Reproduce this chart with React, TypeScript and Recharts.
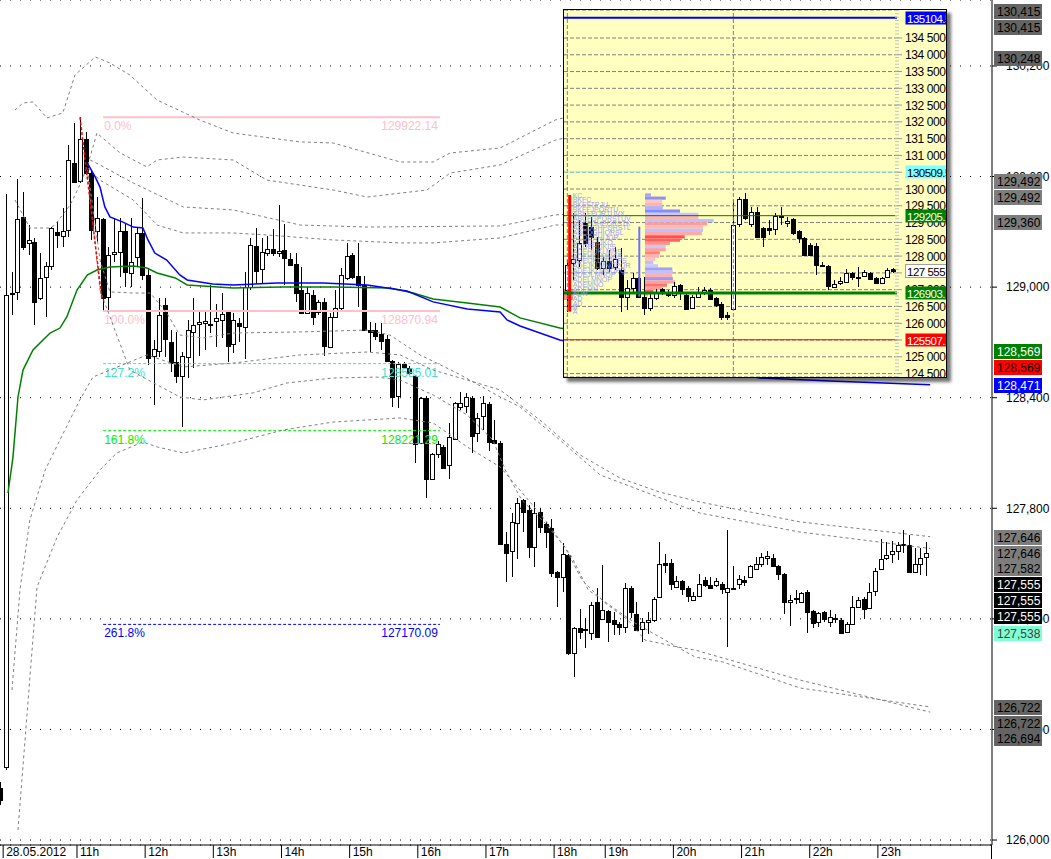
import React from 'react';
import {
  ComposedChart,
  Bar,
  Line,
  Scatter,
  XAxis,
  YAxis,
  CartesianGrid,
  ReferenceLine,
  ReferenceArea,
} from 'recharts';

const FONT = '"Liberation Sans", Arial, Helvetica, sans-serif';

// ---- main chart: 5 min bars, 28.05.2012 (index = bar number) ----
const OPEN = [
  126282, 126396, 128963, 128974, 129381, 129240, 129245, 128941, 129055, 129115,
  129299, 129277, 129310, 129674, 129576, 129804, 129619, 129305, 129370, 128946,
  129180, 129191, 129305, 129077, 129164, 129294, 129066, 128626, 128653, 128903,
  128702, 128594, 128518, 128621, 128757, 128800, 128805, 128800, 128816, 128822,
  128865, 128692, 128805, 128784, 129001, 129223, 129098, 129185, 129207, 129185,
  129202, 129153, 129126, 128985, 128860, 128957, 128865, 128919, 128675, 128838,
  128887, 129050, 129174, 129060, 129012, 128768, 128768, 128746, 128719, 128599,
  128409, 128583, 128561, 128518, 128154, 128398, 127959, 128095, 128133, 128035,
  128176, 128350, 128355, 128398, 128209, 128301, 128366, 128171, 128154, 127606,
  127568, 127720, 127845, 127791, 127590, 127780, 127715, 127693, 127454, 127427,
  127547, 127015, 127151, 127145, 127124, 127292, 127199, 127243, 127194, 127172,
  127156, 127368, 127226, 127145, 127183, 127194, 127319, 127503, 127503, 127373,
  127406, 127368, 127302, 127324, 127411, 127384, 127384, 127389, 127346, 127368,
  127389, 127411, 127427, 127471, 127498, 127530, 127530, 127487, 127444, 127292,
  127308, 127292, 127346, 127243, 127183, 127237, 127183, 127205, 127194, 127129,
  127172, 127264, 127308, 127259, 127351, 127471, 127530, 127552, 127568, 127606,
  127601, 127454, 127498, 127536,
];
const HIGH = [
  126315, 129505, 129082, 129587, 129516, 129337, 129267, 129185, 129136, 129326,
  129353, 129429, 129771, 129891, 129922, 129842, 129634, 129489, 129375, 129218,
  129375, 129375, 129348, 129375, 129321, 129484, 129104, 128713, 128941, 128941,
  128767, 128757, 128648, 128822, 128941, 128865, 128865, 129012, 128908, 128968,
  128871, 128860, 128833, 129082, 129267, 129321, 129267, 129277, 129315, 129446,
  129343, 129185, 129185, 129109, 129001, 128985, 128930, 128941, 128860, 128985,
  129104, 129240, 129185, 129240, 129060, 128811, 128805, 128805, 128740, 128605,
  128594, 128594, 128572, 128523, 128403, 128409, 128100, 128165, 128143, 128263,
  128377, 128431, 128426, 128409, 128317, 128409, 128377, 128279, 128165, 127672,
  127775, 127856, 127850, 127818, 127834, 127802, 127726, 127742, 127460, 127612,
  127552, 127156, 127254, 127205, 127292, 127368, 127492, 127248, 127237, 127183,
  127395, 127378, 127292, 127205, 127237, 127319, 127617, 127552, 127525, 127433,
  127411, 127378, 127346, 127444, 127427, 127427, 127422, 127400, 127682, 127487,
  127438, 127433, 127492, 127536, 127557, 127568, 127552, 127492, 127449, 127330,
  127357, 127346, 127357, 127248, 127237, 127243, 127248, 127226, 127205, 127183,
  127324, 127319, 127319, 127395, 127476, 127633, 127617, 127622, 127617, 127682,
  127655, 127585, 127585, 127617,
];
const LOW = [
  126190, 126380, 128849, 128930, 129202, 129174, 128795, 128930, 128838, 129093,
  129212, 129218, 129272, 129565, 129565, 129608, 129256, 129245, 128871, 128876,
  129136, 129055, 129001, 129001, 129109, 129039, 128577, 128361, 128621, 128621,
  128540, 128480, 128241, 128507, 128561, 128626, 128659, 128751, 128675, 128724,
  128594, 128643, 128702, 128610, 128985, 129017, 129017, 129169, 129169, 129164,
  129012, 129115, 128919, 128854, 128854, 128795, 128849, 128626, 128670, 128833,
  128876, 129039, 129044, 128892, 128762, 128648, 128713, 128659, 128594, 128350,
  128344, 128561, 128523, 128046, 128149, 127856, 127954, 128073, 128014, 127959,
  128171, 128333, 128317, 128100, 128160, 128225, 128111, 128149, 127601, 127400,
  127427, 127525, 127671, 127530, 127481, 127666, 127585, 127427, 127264, 127346,
  127004, 126885, 127091, 127042, 127085, 127096, 127194, 127075, 127112, 127112,
  127123, 127205, 127134, 127075, 127118, 127183, 127313, 127449, 127357, 127368,
  127330, 127292, 127297, 127319, 127373, 127362, 127373, 127335, 127047, 127357,
  127362, 127378, 127422, 127465, 127482, 127492, 127482, 127411, 127227, 127161,
  127281, 127286, 127123, 127151, 127156, 127183, 127156, 127178, 127118, 127123,
  127167, 127259, 127199, 127254, 127324, 127465, 127519, 127503, 127519, 127557,
  127449, 127449, 127438, 127433,
];
const CLOSE = [
  126217, 128957, 128968, 129370, 129218, 129256, 128919, 129050, 129115, 129321,
  129283, 129305, 129690, 129570, 129804, 129619, 129310, 129375, 128941, 129174,
  129191, 129305, 129082, 129136, 129294, 129066, 128615, 128664, 128849, 128719,
  128588, 128518, 128626, 128767, 128795, 128811, 128816, 128802, 128833, 128854,
  128681, 128822, 128789, 129001, 129229, 129088, 129191, 129207, 129185, 129196,
  129158, 129120, 128968, 128860, 128968, 128838, 128919, 128681, 128838, 128887,
  129066, 129169, 129055, 129012, 128768, 128757, 128735, 128708, 128599, 128404,
  128583, 128567, 128534, 128149, 128398, 127959, 128095, 128149, 128019, 128187,
  128371, 128371, 128404, 128192, 128290, 128371, 128160, 128154, 127606, 127557,
  127726, 127829, 127780, 127590, 127775, 127699, 127671, 127449, 127427, 127552,
  127015, 127151, 127129, 127143, 127275, 127102, 127248, 127183, 127172, 127156,
  127368, 127237, 127140, 127183, 127194, 127308, 127498, 127492, 127389, 127406,
  127362, 127324, 127324, 127389, 127384, 127368, 127406, 127362, 127368, 127362,
  127416, 127400, 127487, 127498, 127536, 127541, 127487, 127444, 127292, 127302,
  127313, 127340, 127237, 127178, 127232, 127199, 127210, 127199, 127124, 127172,
  127264, 127302, 127254, 127346, 127460, 127525, 127547, 127568, 127601, 127601,
  127454, 127498, 127530, 127555,
];

const TIME_TICKS = [0.5, 13.5, 25.5, 37.5, 49.5, 61.5, 73.5, 85.5, 97.5, 106.5, 118.5, 130.5, 142.5, 154.5];
const TIME_LABELS = ['28.05.2012', '11h', '12h', '13h', '14h', '15h', '16h', '17h', '18h', '19h', '20h', '21h', '22h', '23h'];
const PRICE_TICKS = [126000, 126600, 127200, 127800, 128400, 129000, 129600, 130200];

// VWAP from session open (green) and from the high (blue), with their bands: [bar, price]
const GREEN_VWAP: [number, number][] = [
  [1.35, 127883], [2.23, 128078], [3.11, 128404], [3.99, 128550], [5.75, 128659], [8.75, 128751],
  [10.5, 128778], [11.7, 128838], [13.5, 128984], [15.3, 129066], [17, 129093], [19.3, 129109],
  [23.4, 129115], [25.8, 129104], [27.6, 129077], [30.8, 129050], [32.9, 129012], [41, 128995],
  [49.8, 129001], [58.6, 129001], [68.6, 128995], [72.7, 128968], [76.2, 128936], [82.2, 128914],
  [88, 128892], [91.5, 128833], [98.5, 128778], [123.2, 128659], [140.8, 128605], [163.7, 128569],
];
const BLUE_VWAP: [number, number][] = [
  [15.3, 129674], [16.7, 129598], [17.55, 129543], [18.4, 129435], [19.3, 129381], [21.6, 129353],
  [23.4, 129326], [25.1, 129321], [26, 129256], [27.2, 129185], [29.3, 129147], [31.6, 129066],
  [32.9, 129039], [37.4, 129017], [41, 129012], [48.7, 129022], [52.8, 129022], [56.8, 129022],
  [64.6, 129012], [71.6, 128979], [76.2, 128920], [82.2, 128881], [88, 128865], [89.2, 128822],
  [91.5, 128789], [98.5, 128713], [133.7, 128507], [146.1, 128491], [163.7, 128471],
];
const GREEN_UP2: [number, number][] = [
  [2.58, 129961], [3.99, 129999], [5.75, 130005], [8.2, 129918], [11, 129945], [13.15, 130151],
  [16.7, 130249], [19.3, 130216], [22.8, 130151], [27.6, 130015], [35.1, 129907], [41, 129836],
  [52.8, 129788], [58.6, 129782], [70.4, 129679], [76.2, 129679], [79.2, 129728], [88, 129755],
  [97.7, 129907], [163.7, 130415],
];
const GREEN_UP1: [number, number][] = [
  [2.58, 129473], [5.2, 129321], [8.75, 129321], [9.6, 129337], [12.3, 129446], [14, 129554],
  [15.8, 129690], [17.55, 129663], [23.4, 129565], [32.2, 129435], [41, 129419], [52.8, 129337],
  [64.6, 129326], [88, 129332], [97.7, 129392], [163.7, 129492],
];
const GREEN_DN1: [number, number][] = [
  [2.06, 126814], [3.46, 127357], [5.2, 127737], [7.9, 128008], [10.5, 128171], [14, 128388],
  [16.3, 128512], [25.8, 128632], [32.2, 128567], [41, 128588], [52.8, 128632], [64.6, 128648],
  [70.4, 128632], [76.2, 128550], [82.2, 128496], [88, 128442], [95, 128279], [102.1, 128089],
  [109.1, 127964], [116.1, 127888], [123.2, 127834], [140.8, 127726], [163.7, 127646],
];
const GREEN_DN2: [number, number][] = [
  [3.11, 126054], [4.35, 126543], [6.46, 127373], [10, 127644], [13.5, 127845], [17.55, 128008],
  [20.5, 128100], [25.1, 128160], [27.6, 128133], [32.2, 128100], [41, 128154], [49.8, 128225],
  [58.6, 128268], [70.4, 128290], [76.2, 128263], [82.2, 128133], [88, 128024], [91, 127916],
  [95.9, 127737], [100.6, 127536], [103.5, 127357], [111.7, 127178], [122.3, 126993], [127.2, 126966],
  [140.8, 126825], [163.7, 126722],
];
const BLUE_UP2: [number, number][] = [
  [15.4, 129663], [17, 129836], [21.1, 129728], [25.8, 129652], [27.6, 129690], [32.2, 129706],
  [41, 129690], [46.9, 129581], [58.6, 129527], [64.6, 129489], [75.1, 129527], [79.2, 129619],
  [88, 129663], [97.7, 129798], [163.7, 130248],
];
const BLUE_UP1: [number, number][] = [
  [15.4, 129646], [17.55, 129581], [23.4, 129473], [27.6, 129337], [32.2, 129294], [41, 129294],
  [46.9, 129283], [58.6, 129256], [70.4, 129240], [76.2, 129240], [88, 129267], [97.7, 129337],
  [163.7, 129360],
];
const BLUE_DN1: [number, number][] = [
  [15.4, 129636], [17.55, 129147], [19.3, 128974], [23.4, 128968], [26.4, 128968], [29.3, 128860],
  [31.6, 128740], [35.7, 128724], [41, 128751], [52.8, 128757], [64.6, 128767], [68.6, 128740],
  [73.9, 128632], [80.4, 128534], [88, 128404], [91.5, 128350], [98.5, 128171], [105.6, 127981],
  [112.6, 127899], [123.2, 127774], [140.8, 127671], [163.7, 127582],
];
const BLUE_DN2: [number, number][] = [
  [15.4, 129608], [17.55, 128984], [22.8, 128550], [31.6, 128404], [35.7, 128388], [44.5, 128426],
  [50.5, 128480], [58.6, 128507], [66.3, 128512], [70.4, 128496], [76.2, 128415], [82.2, 128306],
  [86.7, 128171], [88.9, 128008], [91.8, 127845], [95.9, 127720], [99.4, 127590], [102.4, 127411],
  [106.5, 127286], [110.5, 127194], [113.5, 127085], [119.3, 127047], [122.3, 127031], [140.8, 126868],
  [163.7, 126694],
];

// Fibonacci extension drawn from bar 18 to bar 77
const FIB_LABELS = ['0.0%', '100.0%', '127.2%', '161.8%', '261.8%'];
const FIB_PRICES = [129922.14, 128870.94, 128585.01, 128221.29, 127170.09];
const FIB_FROM = 18.1;
const FIB_TO = 77.4;
const FIB_TREND: [number, number][] = [[14.03, 129922.14], [17.9, 128930]];

// price tags on the right scale
const TAG_VALUES = [130415, 130415, 130248, 129492, 129492, 129360, 128569, 128569, 128471, 127646, 127646, 127582, 127555, 127555, 127555, 127538, 126722, 126722, 126694];

// ---- inset: hourly bars with volume profile ----
const I_OPEN = [
  126991, 127786, 127885, 128977, 128878, 128431, 127637, 127855, 127666, 127587,
  126793, 127041, 127339, 126793, 126445, 126743, 127011, 126941, 126842, 127140,
  126842, 126445, 126773, 126892, 126991, 126743, 126574, 126246, 126415, 128957,
  129702, 128957, 129305, 128828, 128828, 128798, 129156, 128997, 129096, 128749,
  128530, 128332, 128302, 127736, 127706, 127090, 127190, 127229, 127507, 127388,
  127408, 127507, 127339, 127190, 127378, 127607,
];
const I_HIGH = [
  127885, 129275, 129076, 129275, 129176, 128580, 127984, 128183, 128282, 128232,
  127289, 127488, 127388, 127388, 126892, 127011, 127041, 126991, 127239, 127170,
  126892, 126842, 127090, 127090, 127041, 126793, 126644, 126346, 129672, 129772,
  129891, 129474, 129474, 128878, 129076, 129275, 129454, 129176, 129126, 128779,
  128560, 128381, 128401, 127835, 127736, 127289, 127388, 127607, 127537, 127666,
  127587, 127537, 127368, 127388, 127656, 127637,
];
const I_LOW = [
  126346, 127289, 127686, 128282, 128183, 127587, 127438, 127537, 127587, 126346,
  126395, 126892, 126743, 126246, 126375, 126693, 126842, 126793, 126743, 126693,
  126395, 126415, 126743, 126842, 126693, 126475, 126097, 126097, 126395, 128878,
  129076, 128878, 128530, 128282, 128630, 128630, 128927, 128878, 128630, 128381,
  128004, 128004, 127438, 127666, 126991, 127070, 127140, 127210, 127289, 127090,
  127368, 127289, 127170, 127170, 127359, 127507,
];
const I_CLOSE = [
  127736, 127905, 128381, 128381, 128580, 127637, 127855, 127637, 127915, 126793,
  127041, 127339, 126793, 126445, 126743, 126941, 126941, 126842, 127110, 126892,
  126415, 126773, 126941, 126991, 126713, 126544, 126177, 126197, 128927, 129702,
  129126, 129325, 128580, 128580, 128779, 129196, 129196, 129057, 128679, 128530,
  128034, 128034, 127736, 127706, 127110, 127170, 127259, 127507, 127388, 127339,
  127537, 127329, 127190, 127359, 127587, 127555,
];
const INSET_TICKS = [124500, 125000, 125500, 126000, 126500, 127000, 127500, 128000, 128500, 129000, 129500, 130000, 130500, 131000, 131500, 132000, 132500, 133000, 133500, 134000, 134500];
const INSET_LEVELS = [135104.5, 130509.5, 129205.1, 126903.1, 125507.1];
const INSET_LAST = 127555;

// volume profile: price row centre and volume (in bar widths, starting at bar 13.1)
const PROFILE_PRICE = [
  129823, 129727, 129631, 129535, 129439, 129343, 129247, 129151, 129055, 128959, 128863,
  128767, 128671, 128575, 128479, 128383, 128287, 128191, 128095, 127999, 127903, 127807,
  127711, 127615, 127519, 127423, 127327, 127231, 127135, 127039, 126943, 126847,
];
const PROFILE_VOL = [1, 3.5, 2.9, 2.9, 3, 5.9, 9, 9, 11.6, 10.5, 9.8, 9.8, 9.6, 6.7, 5.9, 4.2, 3.5, 3.5, 2.5, 2.4, 1.7, 1.4, 2.2, 4.6, 4.7, 4.6, 4.7, 5.1, 3.7, 2.9, 1.4, 0.5];
const PROFILE_START = 13.1;

const TPO_PRICE = [
  129820, 129680, 129540, 129400, 129260, 129120, 128980, 128840, 128700, 128560, 128420, 128280, 128140,
  128000, 127860, 127720, 127580, 127440, 127300, 127160, 127020, 126880, 126740, 126600, 126460, 126340,
];
const TPO_TEXT = [
  'KC', 'BKFC', 'BKFFTPJU', 'BKFFJPQRTU', 'ABKFPQRTUVX', 'ABCFGPQRSTUV', 'ABCFGHPQRSTK', 'ABCDGHPQRSTL',
  'ABCDGHIQRSL', 'ACDEGHIJQR', 'ACDEHIJKQ', 'ACDEHIJKLS', 'ADEHIJKLMNS', 'ADEIJKLMNOS', 'ADEIJKLMNOPS',
  'ADEJKLMNOPQR', 'ADEJKLMNOPQ', 'ADEJLMNOP', 'ADELMNOP', 'ADEMNO', 'ADEMN', 'ADN', 'AD', 'AD', 'A', 'A',
];

// ---- styling tables ----
const PROFILE_FILL = [
  '#a5a5ff', '#9090f0', '#ffc8c8', '#ffb4b4', '#b0b0ff', '#8888ff', '#c8c8ff', '#ffb4b4', '#c0c0ff', '#ff9c9c', '#ffb8b8',
  '#c0c0ff', '#ffa8a8', '#ff5050', '#ff6060', '#ff9090', '#c8c8ff', '#ffa0a0', '#ff8080', '#ffb0b0', '#ffc0c0', '#c0c0ff',
  '#c8c8ff', '#a0a0ff', '#c0c0ff', '#ffb0b0', '#9898ff', '#ffa0a0', '#ff7070', '#ffa0a0', '#ff6060', '#ffb0b0',
];
const FIB_COLORS = ['#ffc0cb', '#ffc0cb', '#40e0d0', '#00ee00', '#0000ff'];
const FIB_DASH = [undefined, undefined, '3 2', '3 2', '3 2'];
const TAG_FILL = ['#646464', '#646464', '#646464', '#7d7d7d', '#7d7d7d', '#7d7d7d', '#008000', '#ff0000', '#0000ff', '#7d7d7d', '#7d7d7d', '#7d7d7d', '#000', '#000', '#000', '#7fffd4', '#646464', '#646464', '#646464'];
const TAG_INK = ['#000', '#000', '#000', '#000', '#000', '#000', '#fff', '#000', '#fff', '#000', '#000', '#000', '#fff', '#fff', '#fff', '#404040', '#000', '#000', '#000'];
const TAG_SHIFT = [-15, 1, 1, -15, 1, 1, -16, 0, 0, 0, 16, 20, 31, 47, 63, 76, 0, 16, 26];
const LEVEL_STROKE = ['#0000ff', '#80ffff', '#007a00', '#008000', '#ff0000'];
const LEVEL_WIDTH = [2, 1, 1, 3, 1];
const LEVEL_TAG = ['#0000ff', '#80ffff', '#008000', '#008000', '#ff0000'];
const LEVEL_INK = ['#fff', '#000', '#fff', '#fff', '#fff'];

const CANDLES = OPEN.map((o, i) => ({ i, o, h: HIGH[i], l: LOW[i], c: CLOSE[i], range: [LOW[i], HIGH[i]] }));
const INSET_CANDLES = I_OPEN.map((o, i) => ({ i, o, h: I_HIGH[i], l: I_LOW[i], c: I_CLOSE[i], range: [I_LOW[i], I_HIGH[i]] }));
const TPO = TPO_PRICE.map((p, k) => ({ i: 0.9, p, t: TPO_TEXT[k] }));
const pts = (a: [number, number][]) => a.map(([i, v]) => ({ i, v }));

const MAIN_X = [-0.056, 174.59];
const MAIN_Y = [125973, 130558];
const INSET_X = [-0.56, 55.6];
const INSET_Y = [124398, 135334];

function Candle(props: any) {
  const { x, y, width, height, payload } = props;
  if (!payload || height == null) return null;
  const top = Math.min(y, y + height);
  const h = Math.abs(height);
  const span = payload.h - payload.l || 1;
  const py = (v: number) => top + ((payload.h - v) / span) * h;
  const cx = Math.round(x + width / 2) + 0.5;
  const yo = py(payload.o);
  const yc = py(payload.c);
  const b0 = Math.round(Math.min(yo, yc)) + 0.5;
  const b1 = Math.max(Math.round(Math.max(yo, yc)) + 0.5, b0 + 1);
  const up = payload.c >= payload.o;
  return (
    <g shapeRendering="crispEdges">
      <line x1={cx} x2={cx} y1={Math.round(top)} y2={Math.round(top + h)} stroke="#000" />
      <rect x={cx - 2} y={b0} width={4} height={b1 - b0} fill={up ? '#fff' : '#000'} stroke="#000" />
    </g>
  );
}

function TimeTick(props: any) {
  const { x, y, payload } = props;
  const k = TIME_TICKS.indexOf(payload.value);
  return (
    <text x={x + 3} y={y - 2} fontSize={12} fill="#000" fontFamily={FONT}>
      {TIME_LABELS[k]}
    </text>
  );
}

function InsetTick(props: any) {
  const { x, y, payload } = props;
  return (
    <text x={x} y={y + 4.5} fontSize={12} fill="#000" fontFamily={FONT} letterSpacing={-0.4}>
      {fmtSpace(payload.value)}
    </text>
  );
}

function FibLabel(props: any) {
  const { viewBox, fibColor, fibLeft, fibRight } = props;
  if (!viewBox) return null;
  const y = viewBox.y + 13;
  return (
    <g fontFamily={FONT} fontSize={12} fill={fibColor}>
      <text x={viewBox.x + 1} y={y}>{fibLeft}</text>
      <text x={viewBox.x + viewBox.width - 2} y={y} textAnchor="end">{fibRight}</text>
    </g>
  );
}

function PriceTag(props: any) {
  const { viewBox, tagFill, tagInk, tagText, tagShift } = props;
  if (!viewBox) return null;
  const y = Math.round(viewBox.y + tagShift);
  const x = viewBox.x + viewBox.width + 2;
  return (
    <g>
      <rect x={x} y={y - 7} width={48} height={15} fill={tagFill} />
      <text x={x + 3} y={y + 5} fontSize={12} fill={tagInk} fontFamily={FONT}>{tagText}</text>
    </g>
  );
}

function InsetTag(props: any) {
  const { viewBox, tagFill, tagInk, tagText, tagBorder } = props;
  if (!viewBox) return null;
  const y = Math.round(viewBox.y);
  const x = viewBox.x + viewBox.width + 8;
  return (
    <g>
      <rect x={x + 0.5} y={y - 6.5} width={60} height={13} fill={tagFill} stroke={tagBorder || 'none'} />
      <text x={x + 2} y={y + 5} fontSize={11.5} fill={tagInk} fontFamily={FONT} letterSpacing={-0.5}>{tagText}</text>
    </g>
  );
}

function TpoText(props: any) {
  const { cx, cy, payload } = props;
  return (
    <text x={cx} y={cy + 2.5} fontSize={7} fill="#9d9dff" fontFamily={FONT}>
      {payload.t}
    </text>
  );
}

const band = (key: string, a: [number, number][]) => (
  <Line
    key={key}
    data={pts(a)}
    dataKey="v"
    type="linear"
    stroke="#7f7f7f"
    strokeWidth={1}
    strokeDasharray="3 3"
    dot={false}
    activeDot={false}
    isAnimationActive={false}
  />
);

const fmtSpace = (v: number) => `${Math.floor(v / 1000)}\u00a0${String(v % 1000).padStart(3, '0')}`;

function Inset() {
  return (
    <div
      style={{
        position: 'absolute',
        left: 563,
        top: 9,
        width: 382,
        height: 367,
        border: '1px solid #000',
        background: '#ffffc0',
        boxShadow: '4px 4px 3px rgba(0,0,0,0.55)',
        overflow: 'hidden',
      }}
    >
      <ComposedChart width={382} height={367} data={INSET_CANDLES} margin={{ top: 0, right: 0, bottom: 0, left: 0 }}>
        <XAxis dataKey="i" type="number" domain={INSET_X} hide allowDataOverflow />
        <YAxis
          orientation="right"
          width={49}
          domain={INSET_Y}
          ticks={INSET_TICKS}
          interval={0}
          allowDataOverflow
          tickSize={5}
          tickMargin={3}
          axisLine={{ stroke: '#c4c4c4', strokeWidth: 4, strokeDasharray: '1 2.36' }}
          tickLine={{ stroke: '#9a9a9a' }}
          tick={<InsetTick />}
        />
        <CartesianGrid vertical={false} stroke="#808080" strokeDasharray="4 2" />
        <ReferenceLine x={0} stroke="#808080" strokeDasharray="4 2" />
        <ReferenceLine x={28} stroke="#808080" strokeDasharray="4 2" />
        <Scatter data={TPO} dataKey="p" shape={TpoText} isAnimationActive={false} />
        {PROFILE_PRICE.map((p, k) => (
          <ReferenceArea
            key={`pr${k}`}
            x1={PROFILE_START}
            x2={PROFILE_START + PROFILE_VOL[k]}
            y1={p - 48}
            y2={p + 48}
            fill={PROFILE_FILL[k]}
            fillOpacity={1}
            stroke="none"
          />
        ))}
        <ReferenceArea x1={-0.56} x2={0.96} y1={126693} y2={126991} fill="#ff8a8a" fillOpacity={1} stroke="none" />
        <ReferenceLine segment={[{ x: 0.4, y: 129821 }, { x: 0.4, y: 126346 }]} stroke="#ff0000" strokeWidth={3} />
        <ReferenceLine segment={[{ x: 12.14, y: 128878 }, { x: 12.14, y: 126793 }]} stroke="#7070ff" strokeWidth={2} />
        {INSET_LEVELS.map((v, k) => (
          <ReferenceLine key={`lv${k}`} y={v} stroke={LEVEL_STROKE[k]} strokeWidth={LEVEL_WIDTH[k]} />
        ))}
        <Bar dataKey="range" barSize={5} shape={Candle} isAnimationActive={false} />
      </ComposedChart>
      <div style={{ position: 'absolute', left: 0, top: 0 }}>
        <ComposedChart width={382} height={367} data={INSET_CANDLES} margin={{ top: 0, right: 49, bottom: 0, left: 0 }}>
          <XAxis dataKey="i" type="number" domain={INSET_X} hide allowDataOverflow />
          <YAxis domain={INSET_Y} hide allowDataOverflow />
          {INSET_LEVELS.map((v, k) => (
            <ReferenceLine
              key={`lt${k}`}
              y={v}
              stroke="none"
              label={<InsetTag tagFill={LEVEL_TAG[k]} tagInk={LEVEL_INK[k]} tagText={v.toFixed(1)} />}
            />
          ))}
          <ReferenceLine
            y={INSET_LAST}
            stroke="none"
            label={<InsetTag tagFill="#fff" tagInk="#000" tagBorder="#a0a0a0" tagText={fmtSpace(INSET_LAST)} />}
          />
        </ComposedChart>
      </div>
    </div>
  );
}

export default function App() {
  return (
    <div
      style={{
        position: 'absolute',
        left: 0,
        top: 0,
        width: 1051,
        height: 859,
        background: '#fff',
        fontFamily: FONT,
        overflow: 'hidden',
      }}
    >
      <div style={{ position: 'absolute', left: 0, top: 0 }}>
        <ComposedChart width={1051} height={859} data={CANDLES} margin={{ top: 0, right: 0, bottom: 0, left: 0 }}>
          <CartesianGrid vertical={false} stroke="#000" strokeDasharray="1 9" />
          <XAxis
            dataKey="i"
            type="number"
            domain={MAIN_X}
            ticks={TIME_TICKS}
            interval={0}
            height={14}
            tickSize={13}
            tickMargin={0}
            allowDataOverflow
            axisLine={{ stroke: '#000' }}
            tickLine={{ stroke: '#000' }}
            tick={<TimeTick />}
          />
          <YAxis
            orientation="right"
            width={59}
            domain={MAIN_Y}
            ticks={PRICE_TICKS}
            interval={0}
            allowDataOverflow
            tickSize={5}
            tickMargin={9}
            axisLine={{ stroke: '#000' }}
            tickLine={{ stroke: '#000' }}
            tick={{ fontSize: 12, fill: '#000', fontFamily: FONT }}
            tickFormatter={(v: number) => v.toLocaleString('en-US')}
          />
          {FIB_PRICES.map((p, k) => (
            <ReferenceLine
              key={`fib${k}`}
              segment={[{ x: FIB_FROM, y: p }, { x: FIB_TO, y: p }]}
              stroke={FIB_COLORS[k]}
              strokeWidth={FIB_DASH[k] ? 1 : 2}
              strokeDasharray={FIB_DASH[k]}
              label={<FibLabel fibColor={FIB_COLORS[k]} fibLeft={FIB_LABELS[k]} fibRight={p.toFixed(2)} />}
            />
          ))}
          {band('gu2', GREEN_UP2)}
          {band('gu1', GREEN_UP1)}
          {band('gd1', GREEN_DN1)}
          {band('gd2', GREEN_DN2)}
          {band('bu2', BLUE_UP2)}
          {band('bu1', BLUE_UP1)}
          {band('bd1', BLUE_DN1)}
          {band('bd2', BLUE_DN2)}
          <Line data={pts(GREEN_VWAP)} dataKey="v" type="linear" stroke="#008000" strokeWidth={1.5} dot={false} activeDot={false} isAnimationActive={false} />
          <Line data={pts(BLUE_VWAP)} dataKey="v" type="linear" stroke="#0000ff" strokeWidth={1.5} dot={false} activeDot={false} isAnimationActive={false} />
          <ReferenceLine
            segment={[{ x: FIB_TREND[0][0], y: FIB_TREND[0][1] }, { x: FIB_TREND[1][0], y: FIB_TREND[1][1] }]}
            stroke="#ff0000"
            strokeWidth={1.5}
            strokeDasharray="3 2"
          />
          <Bar dataKey="range" barSize={5} shape={Candle} isAnimationActive={false} />
        </ComposedChart>
      </div>
      <div style={{ position: 'absolute', left: 0, top: 0 }}>
        <ComposedChart width={1051} height={859} data={CANDLES} margin={{ top: 0, right: 59, bottom: 14, left: 0 }}>
          <XAxis dataKey="i" type="number" domain={MAIN_X} hide allowDataOverflow />
          <YAxis domain={MAIN_Y} hide allowDataOverflow />
          {TAG_VALUES.map((v, k) => (
            <ReferenceLine
              key={`tag${k}`}
              y={v}
              stroke="none"
              label={
                <PriceTag
                  tagFill={TAG_FILL[k]}
                  tagInk={TAG_INK[k]}
                  tagShift={TAG_SHIFT[k]}
                  tagText={v.toLocaleString('en-US')}
                />
              }
            />
          ))}
        </ComposedChart>
      </div>
      <div style={{ position: 'absolute', left: 991, top: 845, width: 1, height: 14, background: '#000' }} />
      <Inset />
    </div>
  );
}
